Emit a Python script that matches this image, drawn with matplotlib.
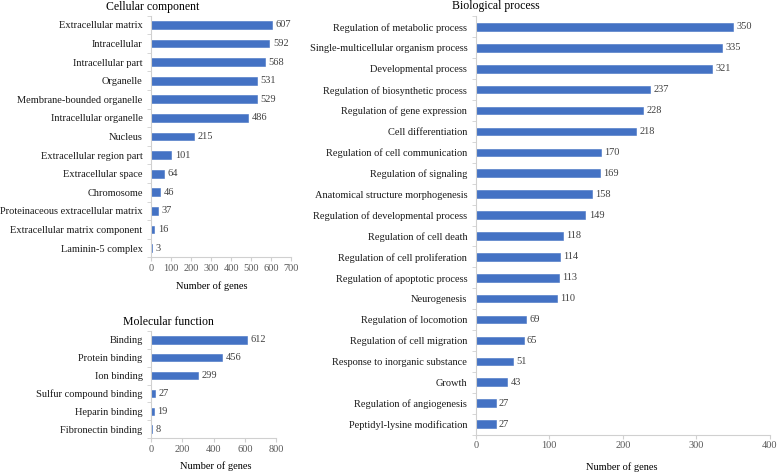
import matplotlib.pyplot as plt
import numpy as np

plt.rcParams['font.family'] = ['Liberation Serif', 'DejaVu Serif']

BLUE = '#4472C4'
AXIS_GRAY = '#D0D0D0'
TEXT_GRAY = '#595959'

# Cellular component
cc_terms = ['Extracellular matrix', 'Intracellular', 'Intracellular part', 'Organelle',
            'Membrane-bounded organelle', 'Intracellular organelle', 'Nucleus',
            'Extracellular region part', 'Extracellular space', 'Chromosome',
            'Proteinaceous extracellular matrix', 'Extracellular matrix component',
            'Laminin-5 complex']
cc_counts = [607, 592, 568, 531, 529, 486, 215, 101, 64, 46, 37, 16, 3]
cc_ticks = [0, 100, 200, 300, 400, 500, 600, 700]

# Molecular function
mf_terms = ['Binding', 'Protein binding', 'Ion binding', 'Sulfur compound binding',
            'Heparin binding', 'Fibronectin binding']
mf_counts = [612, 456, 299, 27, 19, 8]
mf_ticks = [0, 200, 400, 600, 800]

# Biological process
bp_terms = ['Regulation of metabolic process', 'Single-multicellular organism process',
            'Developmental process', 'Regulation of biosynthetic process',
            'Regulation of gene expression', 'Cell differentiation',
            'Regulation of cell communication', 'Regulation of signaling',
            'Anatomical structure morphogenesis', 'Regulation of developmental process',
            'Regulation of cell death', 'Regulation of cell proliferation',
            'Regulation of apoptotic process', 'Neurogenesis', 'Regulation of locomotion',
            'Regulation of cell migration', 'Response to inorganic substance', 'Growth',
            'Regulation of angiogenesis', 'Peptidyl-lysine modification']
bp_counts = [350, 335, 321, 237, 228, 218, 170, 169, 158, 149, 118, 114, 113, 110,
             69, 65, 51, 43, 27, 27]
bp_ticks = [0, 100, 200, 300, 400]

W, H = 778, 473
fig = plt.figure(figsize=(W / 100, H / 100), dpi=100)


def px_axes(left, top, right, bottom):
    """Add axes given pixel edges (top-left origin)"""
    return fig.add_axes([left / W, (H - bottom) / H, (right - left) / W, (bottom - top) / H])


def draw_panel(ax, terms, counts, ticks, bar_h, fs=7.5):
    n = len(terms)
    y = np.arange(n)
    # thin edge keeps the tiny bars (3, 8) visible like in the original
    ax.barh(y, counts, height=bar_h, color=BLUE, edgecolor=BLUE, linewidth=0.4)
    ax.set_ylim(n - 0.5, -0.5)
    ax.set_xlim(ticks[0], ticks[-1])
    ax.set_xticks(ticks)
    ax.set_yticks(y)
    ax.set_yticklabels(terms, fontsize=fs, color='#1a1a1a')
    ax.set_yticks(np.arange(n + 1) - 0.5, minor=True)
    ax.tick_params(axis='y', which='major', length=0, pad=6)
    ax.tick_params(axis='y', which='minor', length=3, color=AXIS_GRAY, direction='out')
    ax.tick_params(axis='x', length=3, color=AXIS_GRAY, labelsize=fs, labelcolor=TEXT_GRAY, pad=2)
    for s in ['top', 'right']:
        ax.spines[s].set_visible(False)
    for s in ['left', 'bottom']:
        ax.spines[s].set_color(AXIS_GRAY)
        ax.spines[s].set_linewidth(0.8)
    for yi, c in zip(y, counts):
        ax.annotate(str(c), (c, yi), xytext=(2.5, 0), textcoords='offset points',
                    va='center', ha='left', fontsize=fs, color='#404040')


ax_cc = px_axes(151, 15.7, 291, 257.3)
draw_panel(ax_cc, cc_terms, cc_counts, cc_ticks, 0.42)

ax_mf = px_axes(151, 331, 276, 438)
draw_panel(ax_mf, mf_terms, mf_counts, mf_ticks, 0.42)

ax_bp = px_axes(475.7, 16.5, 770, 434.5)
draw_panel(ax_bp, bp_terms, bp_counts, bp_ticks, 0.36)

# titles and axis labels
fig.text(153 / W, 1 - 7 / H, 'Cellular component', ha='center', va='center', fontsize=8.5)
fig.text(168 / W, 1 - 322 / H, 'Molecular function', ha='center', va='center', fontsize=8.5)
fig.text(496 / W, 1 - 6 / H, 'Biological process', ha='center', va='center', fontsize=8.5)
fig.text(212 / W, 1 - 286 / H, 'Number of genes', ha='center', va='center', fontsize=7.5)
fig.text(216 / W, 1 - 466 / H, 'Number of genes', ha='center', va='center', fontsize=7.5)
fig.text(622 / W, 1 - 467 / H, 'Number of genes', ha='center', va='center', fontsize=7.5)

fig.savefig('out.png', dpi=100)
